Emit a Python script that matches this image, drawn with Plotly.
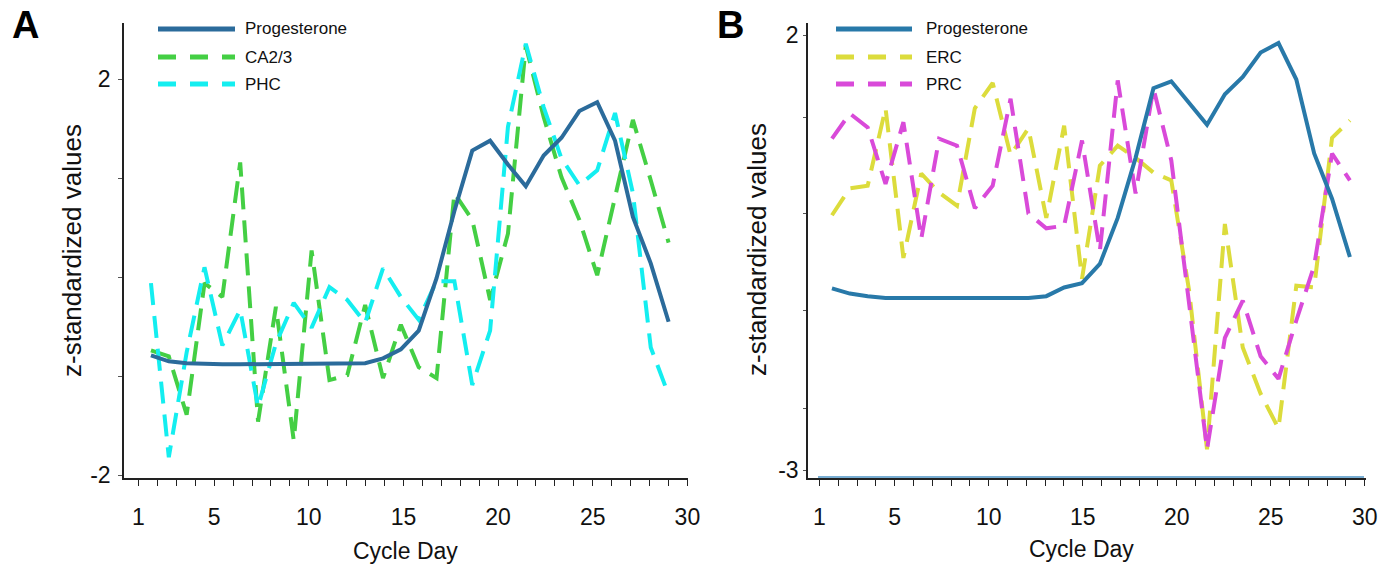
import plotly.graph_objects as go

# ---------------- data ----------------
days = list(range(1, 31))
tick_days = [1, 5, 10, 15, 20, 25, 30]
all_tick_days = list(range(1, 31))

progesterone_A = [-0.79, -0.85, -0.87, -0.88, -0.88, -0.88, -0.88, -0.88, -0.88, -0.88,
                  -0.88, -0.88, -0.87, -0.82, -0.73, -0.54, -0.01, 0.67, 1.28, 1.38,
                  1.14, 0.92, 1.23, 1.41, 1.68, 1.77, 1.38, 0.61, 0.14, -0.45]
ca23 = [-0.74, -0.80, -1.39, -0.06, -0.20, 1.16, -1.46, -0.30, -1.65, 0.27,
        -1.04, -0.99, -0.28, -1.02, -0.48, -0.91, -1.02, 0.85, 0.58, -0.23,
        0.44, 2.34, 1.62, 1.01, 0.58, 0.02, 0.81, 1.59, 0.98, 0.35]
phc = [-0.06, -1.82, -0.76, 0.10, -0.69, -0.33, -1.31, -0.67, -0.26, -0.51,
       -0.10, -0.23, -0.46, 0.09, -0.20, -0.43, -0.04, -0.04, -1.09, -0.54,
       1.52, 2.36, 1.72, 1.20, 0.93, 1.08, 1.66, 0.85, -0.71, -1.19]

progesterone_B = [-0.91, -0.97, -1.00, -1.02, -1.02, -1.02, -1.02, -1.02, -1.02, -1.02,
                  -1.02, -1.02, -1.00, -0.90, -0.85, -0.63, -0.10, 0.59, 1.39, 1.47,
                  1.22, 0.97, 1.32, 1.52, 1.80, 1.91, 1.49, 0.64, 0.12, -0.55]
erc = [-0.07, 0.24, 0.27, 1.16, -0.56, 0.41, 0.19, 0.04, 1.16, 1.45,
       0.62, 0.93, -0.10, 0.96, -0.80, 0.50, 0.73, 0.59, 0.42, 0.33,
       -0.94, -2.76, -0.17, -1.59, -2.12, -2.52, -0.88, -0.90, 0.82, 1.02]
prc = [0.81, 1.10, 0.94, 0.29, 1.00, -0.34, 0.81, 0.73, 0.01, 0.27,
       1.27, -0.05, -0.22, -0.19, 0.79, -0.48, 1.48, 0.18, 1.39, 0.56,
       -1.09, -2.76, -1.48, -1.05, -1.69, -1.95, -1.28, -0.65, 0.64, 0.33]

y_ticks_A = [2, 1, 0, -1, -2]
y_ticktext_A = ["2", "", "", "", "-2"]
y_ticks_B = [2, 1.055, -0.05, -1.17, -2.29, -3]
y_ticktext_B = ["2", "", "", "", "", "-3"]

# ---------------- styles ----------------
W, H = 1385, 569
FONT = "Liberation Sans, Arial, Helvetica, sans-serif"
C_PROG_A = "#2b6b9b"
C_PROG_B = "#2879a9"
C_GREEN = "#44cf44"
C_CYAN = "#14eef0"
C_YELLOW = "#dcdc3c"
C_MAGENTA = "#d94ad9"
DASH = "22px,11px"
LEG_DASH = "18px,14px"
LW = 4


def px(x):
    return x / W


def py(y):
    return 1 - y / H


# pixel calibration of the two panels (day index -> pixel, tick label -> pixel)
cal = {
    "A": dict(u0=133.1, du=17.85, l0=119.5, dl=18.93, dom=(124, 688)),
    "B": dict(u0=814.1, du=17.86, l0=800.7, dl=18.8, dom=(808, 1366)),
}


def xaxis_cfg(c):
    rng = [(c["dom"][0] - c["u0"]) / c["du"], (c["dom"][1] - c["u0"]) / c["du"]]
    tv = [(c["l0"] + c["dl"] * L - c["u0"]) / c["du"] for L in all_tick_days]
    tt = [str(L) if L in tick_days else "" for L in all_tick_days]
    return dict(domain=[px(c["dom"][0]), px(c["dom"][1])], range=rng,
                tickmode="array", tickvals=tv, ticktext=tt,
                ticks="outside", ticklen=6, tickwidth=1.3, tickcolor="#222",
                showline=True, linecolor="#222", linewidth=1.6,
                showgrid=False, zeroline=False, automargin=False,
                tickfont=dict(family=FONT, size=23, color="#111"),
                ticklabelstandoff=12)


fig = go.Figure()

line_specs_A = [
    ("Progesterone", progesterone_A, C_PROG_A, "solid"),
    ("CA2/3", ca23, C_GREEN, DASH),
    ("PHC", phc, C_CYAN, DASH),
]
line_specs_B = [
    ("Progesterone", progesterone_B, C_PROG_B, "solid"),
    ("ERC", erc, C_YELLOW, DASH),
    ("PRC", prc, C_MAGENTA, DASH),
]

for name, vals, col, dash in [line_specs_A[1], line_specs_A[2], line_specs_A[0]]:
    fig.add_trace(go.Scatter(x=days, y=vals, mode="lines", name=name,
                             line=dict(color=col, width=LW, dash=dash),
                             xaxis="x", yaxis="y", showlegend=False))
for name, vals, col, dash in [line_specs_B[1], line_specs_B[2], line_specs_B[0]]:
    fig.add_trace(go.Scatter(x=days, y=vals, mode="lines", name=name,
                             line=dict(color=col, width=LW, dash=dash),
                             xaxis="x2", yaxis="y2", showlegend=False))

ydom = [py(478), py(23)]
fig.update_layout(
    width=W, height=H, autosize=False,
    margin=dict(l=0, r=0, t=0, b=0, pad=0, autoexpand=False),
    paper_bgcolor="white", plot_bgcolor="white",
    showlegend=False,
    font=dict(family=FONT, color="#111"),
    xaxis=xaxis_cfg(cal["A"]),
    xaxis2=xaxis_cfg(cal["B"]),
    yaxis=dict(domain=ydom, range=[-2.03, 2.57], anchor="x",
               tickmode="array", tickvals=y_ticks_A, ticktext=y_ticktext_A,
               ticks="outside", ticklen=4, tickwidth=1, tickcolor="#555",
               showline=True, linecolor="#222", linewidth=1.6,
               showgrid=False, zeroline=False, automargin=False,
               tickfont=dict(family=FONT, size=23, color="#111"),
               ticklabelstandoff=3),
    yaxis2=dict(domain=ydom, range=[-3.09, 2.14], anchor="x2",
                tickmode="array", tickvals=y_ticks_B, ticktext=y_ticktext_B,
                ticks="outside", ticklen=3, tickwidth=1, tickcolor="#555",
                showline=True, linecolor="#222", linewidth=1.6,
                showgrid=False, zeroline=False, automargin=False,
                tickfont=dict(family=FONT, size=23, color="#111"),
                ticklabelstandoff=0),
)

shapes = []
annotations = []


def add_legend(specs, x0, x1, xt, ys):
    for (name, _, col, dash), yy in zip(specs, ys):
        d = "solid" if dash == "solid" else LEG_DASH
        shapes.append(dict(type="line", xref="paper", yref="paper",
                           x0=px(x0), x1=px(x1), y0=py(yy), y1=py(yy),
                           line=dict(color=col, width=LW + 1, dash=d)))
        annotations.append(dict(xref="paper", yref="paper", x=px(xt), y=py(yy),
                                xanchor="left", yanchor="middle", showarrow=False,
                                text=name, font=dict(family=FONT, size=17, color="#111")))


add_legend(line_specs_A, 158, 235, 243, [29, 57, 84])
add_legend(line_specs_B, 836, 912, 924, [29, 57, 84])

# blue line along panel B bottom axis
shapes.append(dict(type="line", xref="paper", yref="paper",
                   x0=px(818), x1=px(1364), y0=py(477), y1=py(477),
                   line=dict(color="#4d93c4", width=1.5)))

# panel letters
annotations.append(dict(xref="paper", yref="paper", x=px(25), y=py(25),
                        xanchor="center", yanchor="middle", showarrow=False,
                        text="<b>A</b>", font=dict(family=FONT, size=38, color="#000")))
annotations.append(dict(xref="paper", yref="paper", x=px(731), y=py(25),
                        xanchor="center", yanchor="middle", showarrow=False,
                        text="<b>B</b>", font=dict(family=FONT, size=38, color="#000")))

# axis titles
for xc, yc in [(72, 251), (757, 250)]:
    annotations.append(dict(xref="paper", yref="paper", x=px(xc), y=py(yc),
                            xanchor="center", yanchor="middle", showarrow=False,
                            textangle=-90, text="z-standardized values",
                            font=dict(family=FONT, size=26, color="#111")))
for xc, yc in [(405, 551), (1081, 549)]:
    annotations.append(dict(xref="paper", yref="paper", x=px(xc), y=py(yc),
                            xanchor="center", yanchor="middle", showarrow=False,
                            text="Cycle Day",
                            font=dict(family=FONT, size=23, color="#111")))

fig.update_layout(shapes=shapes, annotations=annotations)
fig.write_html("out.html")
